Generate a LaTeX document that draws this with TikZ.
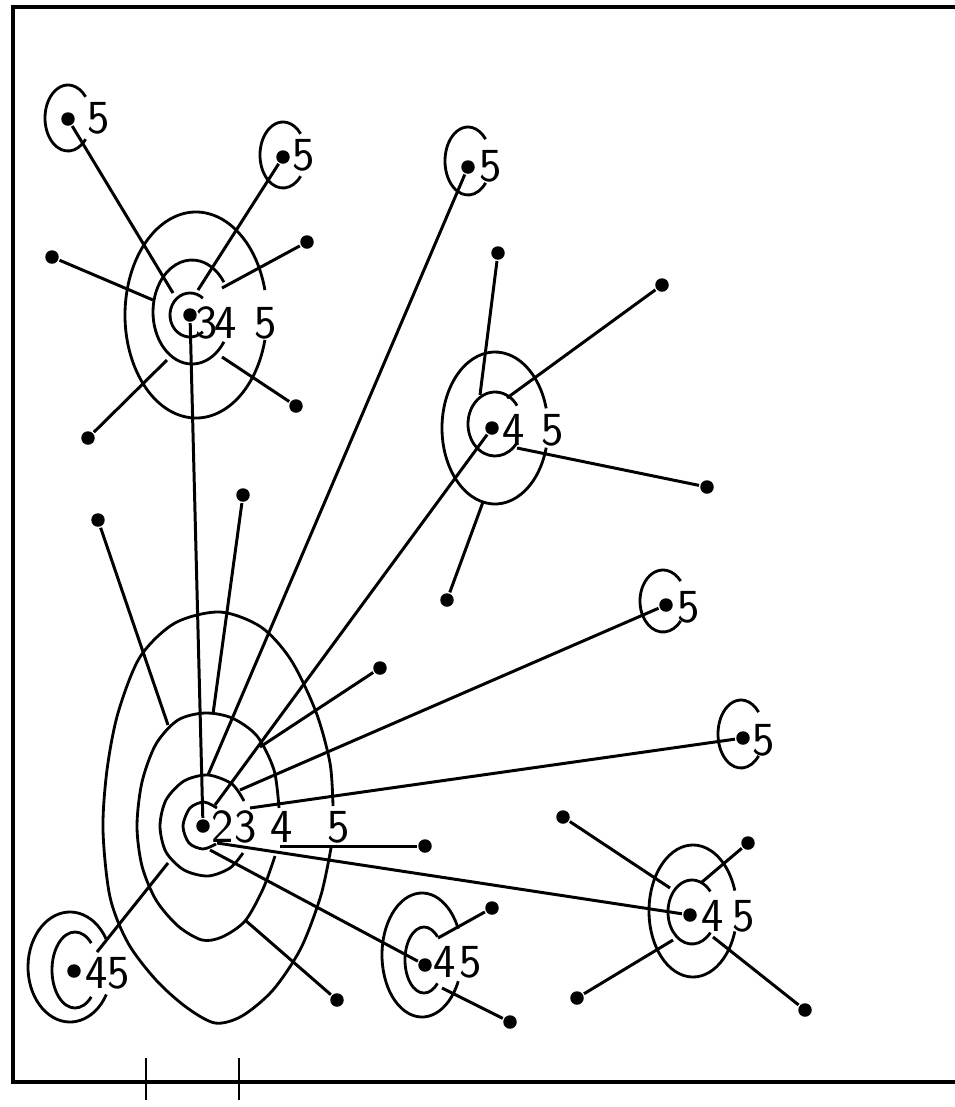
\documentclass[tikz,border=0pt]{standalone}
\usepackage{fontspec}
\usepackage{tikz}

\begin{document}
\begin{tikzpicture}[x=0.02cm, y=-0.02cm,
                line width=1.6pt,
                dot/.style={circle, fill, inner sep=0pt, minimum size=0.27cm},
                lbl/.style={inner sep=0pt, font=\fontsize{27}{27}\sffamily\selectfont},
                ring/.style={line width=1.6pt},
                link/.style={line width=1.7pt}]
                \useasboundingbox (0,0) rectangle (955,1107);
                % frame and ticks
                \draw[line width=2pt] (955,7) -- (13,7) -- (13,1082) -- (955,1082);
                \draw (146,1058) -- (146,1100);
                \draw (239,1058) -- (239,1100);

                % centres
                \node[dot] (C) at (203,826) {};
                \node[dot] (P) at (190,315) {};
                \node[dot] (Q) at (492,428) {};
                \node[dot] (R) at (690,915) {};
                \node[dot] (S) at (425,965) {};
                \node[dot] (T) at (74,971) {};
                % places 5
                \node[dot] (f1) at (68,119) {};
                \node[dot] (f2) at (283,157) {};
                \node[dot] (f3) at (468,167) {};
                \node[dot] (f4) at (666,605) {};
                \node[dot] (f5) at (743,738) {};
                % other places
                \node[dot] (a1) at (98,520) {};
                \node[dot] (a2) at (243,495) {};
                \node[dot] (a3) at (380,668) {};
                \node[dot] (a4) at (425,846) {};
                \node[dot] (a5) at (337,1000) {};
                \node[dot] (b1) at (52,257) {};
                \node[dot] (b2) at (307,242) {};
                \node[dot] (b3) at (88,438) {};
                \node[dot] (b4) at (296,406) {};
                \node[dot] (c1) at (498,253) {};
                \node[dot] (c2) at (662,285) {};
                \node[dot] (c3) at (707,487) {};
                \node[dot] (c4) at (447,600) {};
                \node[dot] (d1) at (563,817) {};
                \node[dot] (d2) at (748,843) {};
                \node[dot] (d3) at (577,998) {};
                \node[dot] (d4) at (805,1010) {};
                \node[dot] (e1) at (492,908) {};
                \node[dot] (e2) at (510,1022) {};

                % labels
                \node[lbl] (C2) at (223,827) {2};
                \node[lbl] (C3) at (246,827) {3};
                \node[lbl] (C4) at (282,827) {4};
                \node[lbl] (C5) at (339,827) {5};
                \node[lbl] (P3) at (207,323) {3};
                \node[lbl] (P4) at (226,323) {4};
                \node[lbl] (P5) at (266,323) {5};
                \node[lbl] (Q4) at (514,430) {4};
                \node[lbl] (Q5) at (553,430) {5};
                \node[lbl] (R4) at (713,916) {4};
                \node[lbl] (R5) at (744,916) {5};
                \node[lbl] (S4) at (445,962) {4};
                \node[lbl] (S5) at (471,962) {5};
                \node[lbl] (T4) at (97,973) {4};
                \node[lbl] (T5) at (119,973) {5};
                \node[lbl] (f1l) at (99,118) {5};
                \node[lbl] (f2l) at (304,155) {5};
                \node[lbl] (f3l) at (491,166) {5};
                \node[lbl] (f4l) at (689,607) {5};
                \node[lbl] (f5l) at (764,740) {5};

                % rings of the main centre
                \draw[ring] plot[smooth] coordinates {(217,808) (204,802) (190,808) (183,826) (189,843) (203,849) (216,844)};
                \draw[ring] plot[smooth] coordinates {(244,801) (232,784) (208,775) (184,781) (166,800) (160,826) (166,852) (184,870) (208,876) (230,868) (243,853)};
                \draw[ring] plot[smooth] coordinates {(279,808) (274,770) (257,736) (232,718) (205,713) (178,720) (156,744) (142,782) (137,826) (142,866) (156,900) (178,926) (202,940) (222,937) (245,921) (263,889) (275,856)};
                \draw[ring] plot[smooth] coordinates {(331,848) (321,895) (301,948) (273,990) (242,1016) (215,1023) (186,1007) (156,980) (128,943) (110,897) (103,830) (107,770) (118,713) (140,657) (175,623) (220,612) (261,627) (291,660) (316,712) (330,763) (333,806)};

                % rings of the other centres
                \draw[ring] (190,315) ++(50:20 and 22) arc[start angle=50, end angle=310, x radius=20, y radius=22];
                \draw[ring] (192,312) ++(35:39 and 52) arc[start angle=35, end angle=325, x radius=39, y radius=52];
                \draw[ring] (196,315) ++(14:71 and 103) arc[start angle=14, end angle=346, x radius=71, y radius=103];
                \draw[ring] (495,424) ++(35:27 and 32) arc[start angle=35, end angle=325, x radius=27, y radius=32];
                \draw[ring] (495,428) ++(15:53 and 76) arc[start angle=15, end angle=345, x radius=53, y radius=76];
                \draw[ring] (692,912) ++(40:24 and 32) arc[start angle=40, end angle=320, x radius=24, y radius=32];
                \draw[ring] (693,911) ++(18:44 and 66) arc[start angle=18, end angle=342, x radius=44, y radius=66];
                \draw[ring] (424,960) ++(45:19 and 33) arc[start angle=45, end angle=315, x radius=19, y radius=33];
                \draw[ring] (422,955) ++(25:40 and 62) arc[start angle=25, end angle=335, x radius=40, y radius=62];
                \draw[ring] (75,970) ++(45:23 and 38) arc[start angle=45, end angle=315, x radius=23, y radius=38];
                \draw[ring] (70,967) ++(30:42 and 55) arc[start angle=30, end angle=330, x radius=42, y radius=55];
                % rings of the places 5
                \draw[ring] (68,118) ++(40:23 and 33) arc[start angle=40, end angle=320, x radius=23, y radius=33];
                \draw[ring] (283,155) ++(40:23 and 33) arc[start angle=40, end angle=320, x radius=23, y radius=33];
                \draw[ring] (468,161) ++(40:23 and 34) arc[start angle=40, end angle=320, x radius=23, y radius=34];
                \draw[ring] (663,601) ++(40:23 and 31) arc[start angle=40, end angle=320, x radius=23, y radius=31];
                \draw[ring] (741,734) ++(40:23 and 34) arc[start angle=40, end angle=320, x radius=23, y radius=34];

                % ends of the links on the rings
                \coordinate (m1) at (168,725);
                \coordinate (m2) at (213,714);
                \coordinate (m3) at (260,747);
                \coordinate (m4) at (280,846);
                \coordinate (m5) at (245,920);
                \coordinate (m6) at (208,775);
                \coordinate (m7) at (240,790);
                \coordinate (m8) at (250,808);
                \coordinate (m9) at (215,805);
                \coordinate (m10) at (217,843);
                \coordinate (m11) at (210,850);
                \coordinate (m12) at (168,863);
                \coordinate (t0) at (97,952);
                \coordinate (p1) at (173,293);
                \coordinate (p2) at (198,290);
                \coordinate (p3) at (153,300);
                \coordinate (p4) at (222,288);
                \coordinate (p5) at (167,360);
                \coordinate (p6) at (222,357);
                \coordinate (q1) at (480,395);
                \coordinate (q2) at (507,398);
                \coordinate (q3) at (517,448);
                \coordinate (q4) at (483,502);
                \coordinate (r1) at (670,888);
                \coordinate (r2) at (702,882);
                \coordinate (r3) at (673,940);
                \coordinate (r4) at (713,937);
                \coordinate (s1) at (438,938);
                \coordinate (s2) at (442,988);

                % links
                \draw[link] (P) -- (C);
                \draw[link] (a1) -- (m1);
                \draw[link] (a2) -- (m2);
                \draw[link] (a3) -- (m3);
                \draw[link] (a4) -- (m4);
                \draw[link] (a5) -- (m5);
                \draw[link] (f3) -- (m6);
                \draw[link] (f4) -- (m7);
                \draw[link] (f5) -- (m8);
                \draw[link] (Q) -- (m9);
                \draw[link] (R) -- (m10);
                \draw[link] (S) -- (m11);
                \draw[link] (t0) -- (m12);
                \draw[link] (f1) -- (p1);
                \draw[link] (f2) -- (p2);
                \draw[link] (b1) -- (p3);
                \draw[link] (b2) -- (p4);
                \draw[link] (b3) -- (p5);
                \draw[link] (b4) -- (p6);
                \draw[link] (c1) -- (q1);
                \draw[link] (c2) -- (q2);
                \draw[link] (c3) -- (q3);
                \draw[link] (c4) -- (q4);
                \draw[link] (d1) -- (r1);
                \draw[link] (d2) -- (r2);
                \draw[link] (d3) -- (r3);
                \draw[link] (d4) -- (r4);
                \draw[link] (e1) -- (s1);
                \draw[link] (e2) -- (s2);
            \end{tikzpicture}
\end{document}
